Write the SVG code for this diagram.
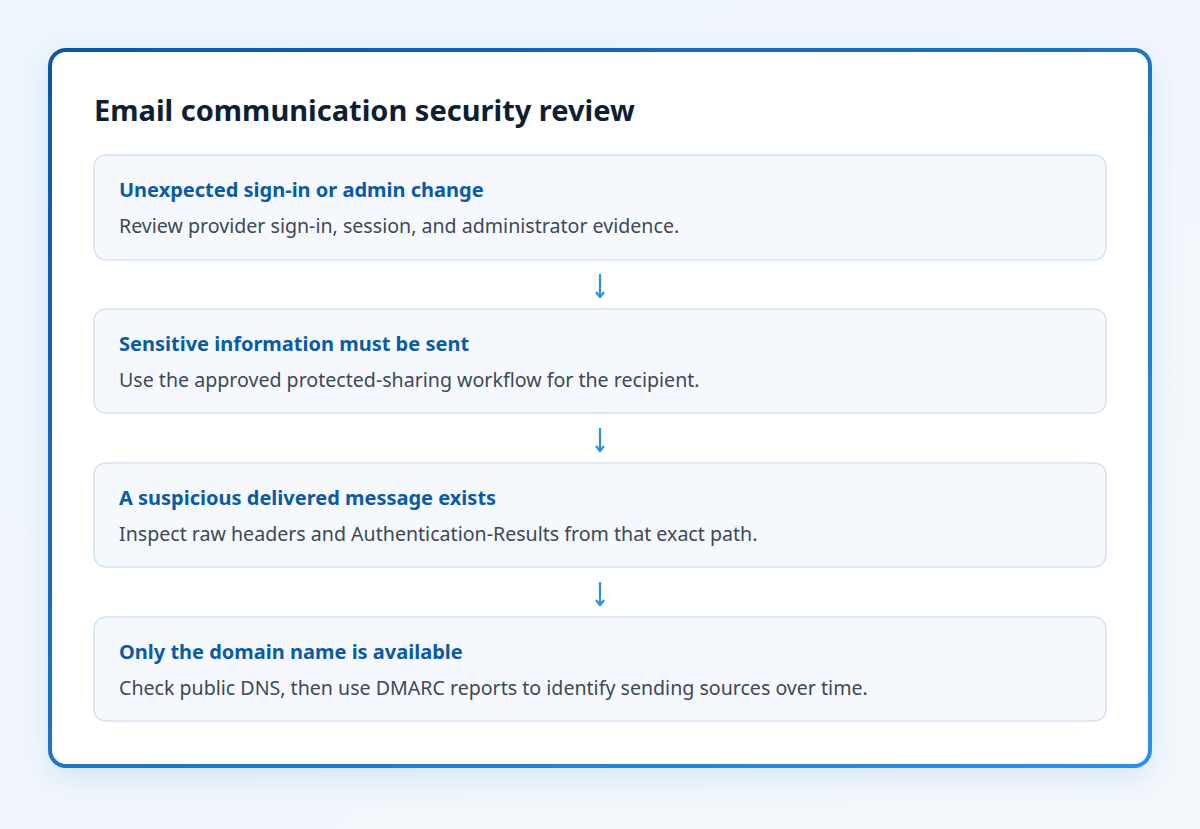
<svg xmlns="http://www.w3.org/2000/svg" width="1200" height="829" viewBox="0 0 1200 829">
<defs>
<linearGradient id="bg" x1="0" y1="0" x2="1" y2="1"><stop offset="0" stop-color="#eef5fc"/><stop offset="1" stop-color="#f4f8fc"/></linearGradient>
<linearGradient id="bd" x1="0" y1="0" x2="1" y2="1"><stop offset="0" stop-color="#0b57a4"/><stop offset="1" stop-color="#2a92ec"/></linearGradient>
<filter id="sh" x="-10%" y="-10%" width="120%" height="130%"><feDropShadow dx="0" dy="10" stdDeviation="14" flood-color="#1c5fa8" flood-opacity="0.12"/></filter>
<marker id="ah" viewBox="0 0 10 10" refX="8" refY="5" markerWidth="10" markerHeight="10" markerUnits="userSpaceOnUse" orient="auto"><path d="M3,1 L8,5 L3,9" fill="none" stroke="#2b8ee6" stroke-width="2.2"/></marker>
</defs>
<style>
.box{fill:#f5f9fd;stroke:#d3e2f2;stroke-width:1.5}
.h{font-family:"Source Sans Pro","Noto Sans","Open Sans",sans-serif;font-weight:700;font-size:20px;fill:#0b5aa6}
.b{font-family:"Source Sans Pro","Noto Sans","Open Sans",sans-serif;font-size:19.6px;fill:#3d4858}
.c{stroke:#2b8ee6;stroke-width:2.2;fill:none}
</style>
<rect width="1200" height="829" fill="url(#bg)"/>
<rect x="50" y="50" width="1100" height="716" rx="16" fill="#fff" stroke="url(#bd)" stroke-width="4" filter="url(#sh)"/>
<text x="94" y="121" font-family="Source Sans Pro,Noto Sans,Open Sans,sans-serif" font-weight="700" font-size="29" fill="#0f1f33">Email communication security review</text>
<g id="n1"><rect class="box" x="94" y="155" width="1012" height="105" rx="12"/><text class="h" x="119" y="197">Unexpected sign-in or admin change</text><text class="b" x="119" y="233">Review provider sign-in, session, and administrator evidence.</text></g>
<g id="n2"><rect class="box" x="94" y="309" width="1012" height="104" rx="12"/><text class="h" x="119" y="351">Sensitive information must be sent</text><text class="b" x="119" y="387">Use the approved protected-sharing workflow for the recipient.</text></g>
<g id="n3"><rect class="box" x="94" y="463" width="1012" height="104" rx="12"/><text class="h" x="119" y="505">A suspicious delivered message exists</text><text class="b" x="119" y="541">Inspect raw headers and Authentication-Results from that exact path.</text></g>
<g id="n4"><rect class="box" x="94" y="617" width="1012" height="104" rx="12"/><text class="h" x="119" y="659">Only the domain name is available</text><text class="b" x="119" y="695">Check public DNS, then use DMARC reports to identify sending sources over time.</text></g>
<g id="connectors">
<path class="c" d="M600,274 V297" marker-end="url(#ah)"/>
<path class="c" d="M600,428 V451" marker-end="url(#ah)"/>
<path class="c" d="M600,582 V605" marker-end="url(#ah)"/>
</g>
</svg>
